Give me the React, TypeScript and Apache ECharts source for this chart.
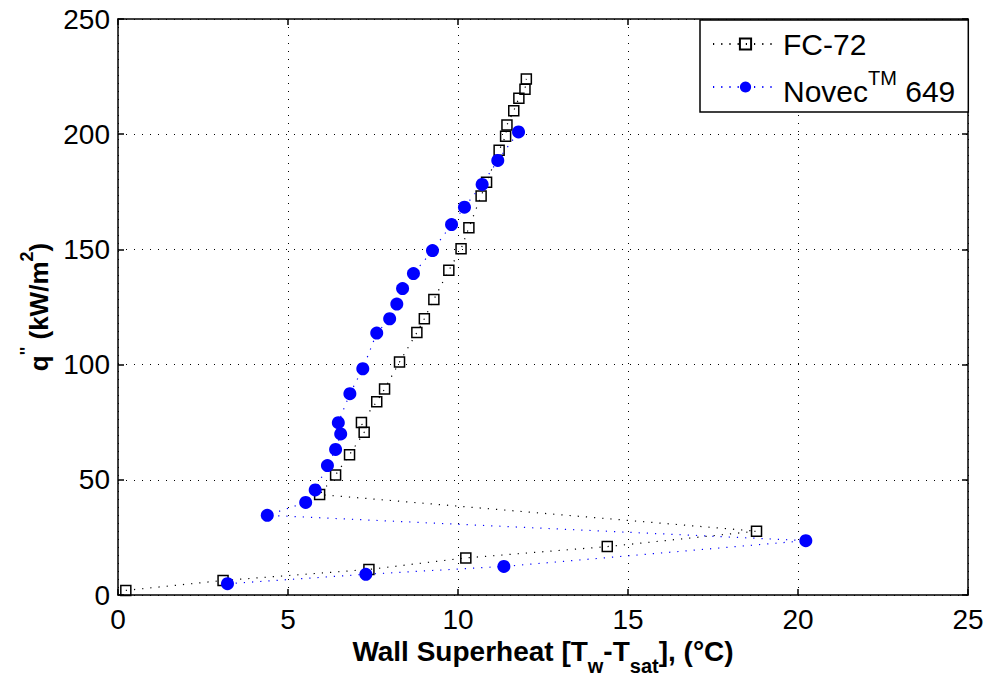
import React, { useEffect, useRef } from 'react';
import * as echarts from 'echarts';

// FC-72 data (wall superheat °C, heat flux kW/m2) in measurement order
const fc72X = [0.23, 3.09, 7.38, 10.23, 14.39, 18.78, 5.93, 6.40, 6.81, 7.24, 7.16, 7.61, 7.84, 8.28, 8.79, 9.01, 9.29, 9.73, 10.09, 10.32, 10.68, 10.84, 11.21, 11.40, 11.44, 11.64, 11.79, 11.97, 12.01];
const fc72Y = [2.0, 6.3, 11.1, 16.1, 21.0, 27.7, 43.6, 52.1, 60.9, 70.6, 74.9, 83.9, 89.4, 101.1, 113.9, 119.9, 128.3, 140.9, 150.3, 159.4, 173.2, 179.1, 193.0, 199.1, 204.0, 210.2, 215.6, 219.5, 224.0];

// Novec 649 data
const novecX = [3.22, 7.29, 11.35, 20.23, 4.39, 5.52, 5.80, 6.16, 6.40, 6.55, 6.48, 6.82, 7.20, 7.61, 7.99, 8.20, 8.37, 8.69, 9.25, 9.81, 10.19, 10.71, 11.17, 11.78];
const novecY = [4.9, 9.0, 12.4, 23.6, 34.6, 40.2, 45.6, 56.2, 63.2, 69.9, 74.8, 87.4, 98.2, 113.7, 119.9, 126.3, 133.0, 139.5, 149.5, 160.8, 168.3, 178.2, 188.6, 201.0];

const seriesNames = ['FC-72', 'Novec649'];
const xRange = [0, 25, 5];
const yRange = [0, 250, 50];

const FONT = 'Liberation Sans, Arial, Helvetica, sans-serif';

export default function App() {
  const ref = useRef<HTMLDivElement>(null);
  useEffect(() => {
    const chart = echarts.init(ref.current!, null, { renderer: 'svg' });
    const dotted = { color: '#000', width: 1, type: [1, 7] as number[] };
    const axisCommon = {
      type: 'value' as const,
      axisLine: { show: true, onZero: false, lineStyle: { color: '#000', width: 1.5 } },
      axisTick: { show: true, inside: true, length: 6, lineStyle: { color: '#000', width: 1.5 } },
    };
    chart.setOption({
      animation: false,
      backgroundColor: '#fff',
      grid: { left: 118, right: 21, top: 19, bottom: 80, containLabel: false, outerBoundsMode: 'none' },
      xAxis: [
        {
          ...axisCommon,
          position: 'bottom',
          min: xRange[0], max: xRange[1], interval: xRange[2],
          axisLabel: { color: '#000', fontSize: 28, fontFamily: FONT, margin: 10 },
          splitLine: { show: true, lineStyle: dotted },
          name: '{m|Wall Superheat [T}{s|w}{m|-T}{s|sat}{m|], (°C)}',
          nameLocation: 'middle',
          nameGap: 34,
          nameTextStyle: {
            color: '#000', fontFamily: FONT, fontWeight: 'bold', fontSize: 28,
            rich: {
              m: { fontFamily: FONT, fontWeight: 'bold', fontSize: 28, color: '#000', lineHeight: 30, verticalAlign: 'top' },
              s: { fontFamily: FONT, fontWeight: 'bold', fontSize: 20, color: '#000', lineHeight: 38, verticalAlign: 'bottom' },
            },
          },
        },
        {
          ...axisCommon,
          position: 'top',
          min: xRange[0], max: xRange[1], interval: xRange[2],
          axisLabel: { show: false },
          splitLine: { show: false },
        },
      ],
      yAxis: [
        {
          ...axisCommon,
          position: 'left',
          min: yRange[0], max: yRange[1], interval: yRange[2],
          axisLabel: { color: '#000', fontSize: 28, fontFamily: FONT, margin: 8 },
          splitLine: { show: true, lineStyle: dotted },
          name: '{m|q}{p|\'\'}{m| (kW/m}{p|2}{m|)}',
          nameLocation: 'middle',
          nameGap: 57,
          nameTextStyle: {
            color: '#000', fontFamily: FONT, fontWeight: 'bold', fontSize: 26,
            rich: {
              m: { fontFamily: FONT, fontWeight: 'bold', fontSize: 26, color: '#000', lineHeight: 34, verticalAlign: 'bottom' },
              p: { fontFamily: FONT, fontWeight: 'bold', fontSize: 18, color: '#000', lineHeight: 14, verticalAlign: 'top' },
            },
          },
        },
        {
          ...axisCommon,
          position: 'right',
          min: yRange[0], max: yRange[1], interval: yRange[2],
          axisLabel: { show: false },
          splitLine: { show: false },
        },
      ],
      legend: {
        show: true,
        orient: 'vertical',
        left: 700,
        top: 20,
        padding: [9, 13, 6, 12],
        itemGap: 9,
        itemWidth: 65,
        itemHeight: 14,
        backgroundColor: '#fff',
        borderColor: '#000',
        borderWidth: 1.5,
        borderRadius: 0,
        data: seriesNames,
        formatter: (name: string) =>
          name === 'FC-72' ? '{t|FC-72}' : '{n|Novec}{sup|TM}{n| 649}',
        textStyle: {
          color: '#000', fontFamily: FONT, fontSize: 30,
          rich: {
            t: { color: '#000', fontFamily: FONT, fontSize: 30, lineHeight: 30 },
            n: { color: '#000', fontFamily: FONT, fontSize: 30, lineHeight: 38, verticalAlign: 'bottom' },
            sup: { color: '#000', fontFamily: FONT, fontSize: 20, lineHeight: 20, verticalAlign: 'top' },
          },
        },
      },
      series: [
        {
          name: seriesNames[0],
          type: 'line',
          xAxisIndex: 0,
          yAxisIndex: 0,
          data: fc72X.map((x, i) => [x, fc72Y[i]]),
          symbol: 'rect',
          symbolSize: 10,
          showAllSymbol: true,
          color: '#000',
          itemStyle: { color: 'rgba(0,0,0,0)', borderColor: '#000', borderWidth: 1.5 },
          lineStyle: { color: '#000', width: 1.2, type: [1.2, 7] },
          emphasis: { disabled: true },
          z: 3,
        },
        {
          name: seriesNames[1],
          type: 'line',
          xAxisIndex: 0,
          yAxisIndex: 0,
          data: novecX.map((x, i) => [x, novecY[i]]),
          symbol: 'circle',
          symbolSize: 13,
          showAllSymbol: true,
          color: '#0000ff',
          itemStyle: { color: '#0000ff' },
          lineStyle: { color: '#0000ff', width: 1.2, type: [1.2, 7] },
          emphasis: { disabled: true },
          z: 4,
        },
      ],
    });
    return () => chart.dispose();
  }, []);
  return <div ref={ref} style={{ position: 'fixed', left: 0, top: 0, width: 989, height: 675 }} />;
}
